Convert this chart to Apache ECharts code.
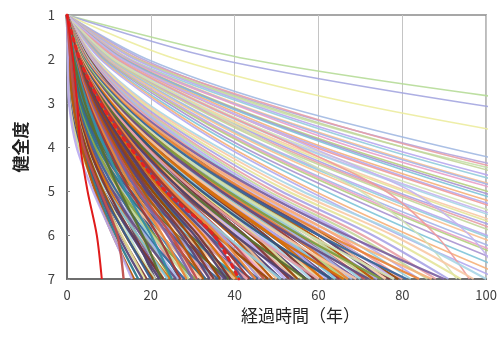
<!DOCTYPE html>
<html>
<head>
<meta charset="utf-8">
<script src="https://cdn.jsdelivr.net/npm/echarts@6/dist/echarts.min.js"></script>
<style>
  html, body { margin: 0; padding: 0; background: #fff; }
  #chart { width: 500px; height: 338px; }
</style>
</head>
<body>
<div id="chart"></div>
<script>
// health grades on the y axis (1 = sound, 7 = worst)
const grades = [1, 2, 3, 4, 5, 6, 7]

// each curve: years needed to reach grade 2, 3, 4, 5, 6, 7
const upperLines = [
  [43, 113, 200, 300, 420, 550],
  [36, 95, 170, 260, 360, 470],
  [26, 68, 125, 190, 265, 350],
  [19, 49, 90, 138, 190, 250],
  [18, 46, 84, 130, 180, 240],
  [17, 44, 80, 125, 172, 230]
]

const edgeLines = [
  [17, 47, 83, 126, 173, 225],
  [16.5, 45, 80, 120, 166, 215],
  [16, 43, 76, 115, 158, 205],
  [15, 42, 74, 112, 154, 200],
  [14.8, 40, 71, 107, 148, 192],
  [14.5, 39.5, 70, 106, 145, 188],
  [14, 39, 68, 104, 142, 185],
  [13.7, 37, 66, 100, 137, 178],
  [13.5, 36.5, 65, 98, 134, 175],
  [13.2, 36, 64, 96, 132, 172],
  [12.8, 35, 61, 93, 128, 166],
  [12.5, 34, 60, 91, 125, 163],
  [12.3, 33.6, 59, 90, 123, 160],
  [12, 32.5, 57, 87, 119, 155],
  [11.7, 32, 56, 85, 117, 152],
  [11.5, 31.5, 55.5, 84, 115.5, 150],
  [11, 30.5, 54, 81, 112, 145],
  [11, 30, 53, 80, 110, 143],
  [10.8, 29.4, 52, 78, 108, 140],
  [10.5, 28.8, 51, 77, 106, 137],
  [10.4, 28.4, 50, 76, 104, 135],
  [10, 27.3, 48, 73, 100, 130],
  [9.9, 27, 47.4, 72, 99, 128],
  [9.7, 26.5, 46.6, 70.5, 97, 126],
  [9.4, 25.6, 45, 68, 94, 122],
  [9.2, 25.2, 44.4, 67, 92, 120],
  [9.1, 24.8, 43.7, 66, 91, 118],
  [8.8, 24, 42, 64, 88, 114],
  [8.5, 23, 40.7, 61.6, 84.7, 110],
  [8.2, 22.3, 39, 59, 81.6, 106],
  [7.9, 21.6, 38, 57.7, 79.3, 103],
  [12, 32, 55, 76, 88, 96],
  [11, 30, 50, 70, 84, 93],
  [13, 34, 58, 82, 96, 104]
]

const lateLines = [
  [7, 19, 36, 56, 80, 100],
  [6.8, 18.4, 35, 54.3, 77.6, 97],
  [6.6, 17.9, 33.8, 52.6, 75.2, 94],
  [6.4, 17.3, 32.8, 51, 72.8, 91],
  [6.2, 16.7, 31.7, 49.3, 70.4, 88],
  [6, 16.3, 31, 48, 68.8, 86],
  [5.9, 16, 30.2, 47, 67.2, 84],
  [5.7, 15.6, 29.5, 46, 65.6, 82]
]

// the thick middle of the bundle
const denseLines = [
  [4.4, 12.4, 24.8, 39.4, 56.2, 73],
  [4.3, 12.1, 24.1, 38.3, 54.7, 71],
  [4.1, 11.7, 23.5, 37.3, 53.1, 69],
  [4, 11.4, 22.8, 36.2, 51.6, 67],
  [3.9, 11.1, 22.1, 35.1, 50, 65],
  [3.8, 10.7, 21.4, 34, 48.5, 63],
  [3.7, 10.4, 20.7, 32.9, 47, 61],
  [3.5, 10, 20.1, 31.9, 45.4, 59],
  [3.4, 9.7, 19.4, 30.8, 43.9, 57],
  [3.3, 9.4, 18.7, 29.7, 42.4, 55],
  [3.2, 9, 18, 28.6, 40.8, 53],
  [3.1, 8.7, 17.3, 27.5, 39.3, 51],
  [2.9, 8.3, 16.7, 26.5, 37.7, 49],
  [2.8, 8, 16, 25.4, 36.2, 47],
  [2.7, 7.7, 15.3, 24.3, 34.7, 45],
  [2.6, 7.3, 14.6, 23.2, 33.1, 43],
  [2.5, 7, 13.9, 22.1, 31.6, 41],
  [2.3, 6.6, 13.3, 21.1, 30, 39],
  [2.2, 6.3, 12.6, 20, 28.5, 37],
  [2.1, 6, 11.9, 18.9, 27, 35],
  [2, 5.6, 11.2, 17.8, 25.4, 33],
  [1.9, 5.3, 10.5, 16.7, 23.9, 31],
  [1.7, 4.9, 9.9, 15.7, 22.3, 29],
  [1.6, 4.6, 9.2, 14.6, 20.8, 27],
  [1.5, 4.3, 8.5, 13.5, 19.3, 25],
  [1.4, 3.9, 7.8, 12.4, 17.7, 23],
  [1.3, 3.6, 7.1, 11.3, 16.2, 21]
]

const midLines = [
  [5.6, 15.2, 28.8, 44.8, 64, 80],
  [4, 11.9, 24.5, 41, 61.6, 79],
  [5.5, 14.8, 28.1, 43.7, 62.4, 78],
  [3.9, 11.6, 23.9, 40, 60, 77],
  [5.3, 14.4, 27.4, 42.6, 60.8, 76],
  [5.3, 14.3, 27, 42, 60, 75],
  [3.7, 11.1, 22.9, 38.5, 57.7, 74],
  [5.1, 13.9, 26.3, 40.9, 58.4, 73],
  [5, 13.7, 25.9, 40.3, 57.6, 72],
  [3.6, 10.7, 22, 36.9, 55.4, 71],
  [4.9, 13.3, 25.2, 39.2, 56, 70],
  [3.5, 10.4, 21.4, 35.9, 53.8, 69],
  [4.8, 12.9, 24.5, 38.1, 54.4, 68],
  [4.7, 12.7, 24.1, 37.5, 53.6, 67],
  [3.3, 9.9, 20.5, 34.3, 51.5, 66],
  [4.6, 12.4, 23.4, 36.4, 52, 65],
  [4.5, 12.2, 23, 35.8, 51.2, 64],
  [3.2, 9.5, 19.5, 32.8, 49.1, 63],
  [4.3, 11.8, 22.3, 34.7, 49.6, 62],
  [4.3, 11.6, 22, 34.2, 48.8, 61],
  [3, 9, 18.6, 31.2, 46.8, 60],
  [4.1, 11.2, 21.2, 33, 47.2, 59],
  [4.1, 11, 20.9, 32.5, 46.4, 58],
  [2.9, 8.6, 17.7, 29.6, 44.5, 57],
  [3.9, 10.6, 20.2, 31.4, 44.8, 56],
  [3.9, 10.5, 19.8, 30.8, 44, 55],
  [2.7, 8.1, 16.7, 28.1, 42.1, 54],
  [3.7, 10.1, 19.1, 29.7, 42.4, 53],
  [3.6, 9.9, 18.7, 29.1, 41.6, 52],
  [2.6, 7.7, 15.8, 26.5, 39.8, 51],
  [3.5, 9.5, 18, 28, 40, 50],
  [3.4, 9.3, 17.6, 27.4, 39.2, 49],
  [2.4, 7.2, 14.9, 25, 37.4, 48],
  [3.3, 8.9, 16.9, 26.3, 37.6, 47],
  [3.2, 8.7, 16.6, 25.8, 36.8, 46]
]

// curves that drop fast at first and then level off
const steadyLines = [
  [4.5, 14.4, 28.4, 45.9, 66.6, 90],
  [4.4, 13.9, 27.4, 44.4, 64.4, 87],
  [4.2, 13.4, 26.5, 42.8, 62.2, 84],
  [4.1, 13, 25.5, 41.3, 59.9, 81],
  [3.9, 12.5, 24.6, 39.8, 57.7, 78],
  [3.8, 12, 23.6, 38.3, 55.5, 75],
  [3.6, 11.5, 22.7, 36.7, 53.3, 72],
  [3.5, 11, 21.7, 35.2, 51.1, 69],
  [3.3, 10.6, 20.8, 33.7, 48.8, 66],
  [3.2, 10.1, 19.8, 32.1, 46.6, 63],
  [3, 9.6, 18.9, 30.6, 44.4, 60],
  [2.9, 9.1, 18, 29.1, 42.2, 57],
  [2.7, 8.6, 17, 27.5, 40, 54],
  [2.6, 8.2, 16.1, 26, 37.7, 51],
  [2.4, 7.7, 15.1, 24.5, 35.5, 48],
  [2.3, 7.3, 14.3, 23.2, 33.7, 45.5],
  [2.2, 6.9, 13.5, 21.9, 31.8, 43],
  [2, 6.4, 12.6, 20.4, 29.6, 40],
  [1.9, 6, 11.8, 19.1, 27.8, 37.5],
  [1.8, 5.6, 11, 17.9, 25.9, 35],
  [1.6, 5.2, 10.2, 16.6, 24.1, 32.5],
  [1.5, 4.8, 9.5, 15.3, 22.2, 30],
  [1.4, 4.4, 8.7, 14, 20.4, 27.5],
  [1.3, 4, 7.9, 12.8, 18.5, 25],
  [1.1, 3.6, 7.1, 11.5, 16.7, 22.5],
  [1, 3.2, 6.3, 10.2, 14.8, 20]
]

const earlyLines = [
  [3.2, 8.6, 16.2, 25.2, 36, 45],
  [1.3, 4, 9.7, 18.5, 29.9, 44],
  [3, 8.3, 15.7, 24.4, 34.8, 43.5],
  [0.4, 1.3, 6.5, 17.2, 30.1, 43],
  [2.9, 8, 15.1, 23.5, 33.6, 42],
  [1.2, 3.7, 9.1, 17.4, 28.2, 41.5],
  [2.8, 7.7, 14.6, 22.7, 32.4, 40.5],
  [0.4, 1.2, 6, 16, 28, 40],
  [2.7, 7.4, 14, 21.8, 31.2, 39],
  [1.2, 3.5, 8.5, 16.2, 26.2, 38.5],
  [2.7, 7.2, 13.7, 21.3, 30.4, 38],
  [0.4, 1.1, 5.6, 14.8, 25.9, 37],
  [2.6, 6.9, 13.1, 20.4, 29.2, 36.5],
  [1.1, 3.2, 7.9, 15.1, 24.5, 36],
  [2.5, 6.7, 12.6, 19.6, 28, 35],
  [0.3, 1, 5.2, 13.8, 24.2, 34.5],
  [2.4, 6.5, 12.2, 19, 27.2, 34],
  [1, 3, 7.3, 13.9, 22.4, 33],
  [2.3, 6.2, 11.7, 18.2, 26, 32.5],
  [0.3, 1, 4.8, 12.8, 22.4, 32],
  [2.2, 5.9, 11.2, 17.4, 24.8, 31],
  [0.9, 2.7, 6.7, 12.8, 20.7, 30.5],
  [2.1, 5.7, 10.8, 16.8, 24, 30],
  [0.3, 0.9, 4.4, 11.6, 20.3, 29],
  [2, 5.4, 10.3, 16, 22.8, 28.5],
  [0.8, 2.5, 6.2, 11.8, 19, 28],
  [1.9, 5.1, 9.7, 15.1, 21.6, 27],
  [0.3, 0.8, 4, 10.6, 18.6, 26.5],
  [0.8, 2.3, 5.7, 10.9, 17.7, 26],
  [1.8, 4.8, 9, 14, 20, 25],
  [0.7, 2.2, 5.4, 10.3, 16.7, 24.5],
  [0.2, 0.7, 3.6, 9.6, 16.8, 24],
  [0.7, 2.1, 5.1, 9.7, 15.6, 23],
  [1.6, 4.3, 8.1, 12.6, 18, 22.5],
  [0.2, 0.7, 3.3, 8.8, 15.4, 22],
  [0.6, 1.9, 4.6, 8.8, 14.3, 21],
  [0.6, 1.8, 4.5, 8.6, 13.9, 20.5],
  [0.2, 0.6, 3, 8, 14, 20],
  [0.6, 1.7, 4.2, 8, 12.9, 19],
  [0.2, 0.6, 2.8, 7.4, 13, 18.5],
  [0.5, 1.6, 4, 7.6, 12.2, 18],
  [0.5, 1.5, 3.7, 7.1, 11.6, 17],
  [0.5, 1.4, 3.5, 6.7, 10.9, 16],
  [0.2, 0.5, 2.3, 6.2, 10.9, 15.5],
  [0.8, 2, 4, 8, 12, 13.5]
]

// highlighted curves
const averageLine = [3, 8, 15, 23.5, 35, 41]
const fastestLine = [1.4, 2.45, 3.2, 4.9, 7.1, 8.3]

const upperPalette = ["#b6dc98", "#a4a6e0", "#ecec9e", "#a2b9e2", "#b3a6dd", "#c6e0aa"]
const darkPalette = [
  "#3b6190", "#80393a", "#5f7530", "#5a4878", "#2f7a8c", "#b65708",
  "#4f81bd", "#c0504d", "#8aa845", "#8064a2", "#4bacc6", "#e9863c",
  "#3a679c", "#9f3b38", "#7e9d40", "#664f83", "#358ea6", "#d9700b",
  "#32577f", "#7a3532", "#5a7030", "#52426e", "#2a6e7c", "#984807"
]
const lightPalette = [
  "#a9a3e6", "#e8a0a6", "#c3d69b", "#b8a8ee", "#93cddd", "#fac090",
  "#a5b5e8", "#eaa0c8", "#b6cf80", "#a893d0", "#7fc4d8", "#f6b07a",
  "#b3aaf0", "#f09a9a", "#d3e2b3", "#c3b4f0", "#a9d6e6", "#f8c9a5", "#e4e49a"
]

function toPoints(years) {
  return [[0, grades[0]]].concat(years.map((t, i) => [t, grades[i + 1]]))
}

const series = []
let colorIndex = 0

function lineSeries(years, color, width, opacity) {
  return {
    type: "line",
    data: toPoints(years),
    symbol: "none",
    smooth: 0.3,
    silent: true,
    lineStyle: { color: color, width: width, opacity: opacity }
  }
}

// pattern: "L" = light colour, "D" = dark colour, repeated along the group
function addGroup(lines, width, pattern) {
  lines.forEach((years, i) => {
    colorIndex++
    const useLight = pattern[i % pattern.length] === "L"
    const color = useLight
      ? lightPalette[colorIndex % lightPalette.length]
      : darkPalette[colorIndex % darkPalette.length]
    series.push(lineSeries(years, color, width, useLight ? 0.9 : 0.95))
  })
}

upperLines.forEach((years, i) => series.push(lineSeries(years, upperPalette[i], 1.5, 0.9)))
addGroup(edgeLines, 1.6, "L")
addGroup(lateLines, 2, "L")
addGroup(denseLines, 2.6, "LLD")
addGroup(midLines, 2.4, "LD")
addGroup(steadyLines, 2.4, "DLD")
addGroup(earlyLines, 2.4, "DDDL")

series.push({
  type: "line",
  data: toPoints(averageLine),
  symbol: "none",
  smooth: 0.3,
  silent: true,
  lineStyle: { color: "#e52222", width: 3, type: [3, 5], cap: "round" }
})
series.push(lineSeries(fastestLine, "#e01b1b", 2, 1))

const font = "'Noto Sans CJK JP', 'Noto Sans', sans-serif"

const chart = echarts.init(document.getElementById("chart"), null, { renderer: "canvas" })
chart.setOption({
  animation: false,
  grid: {
    left: 67,
    right: 13,
    top: 15,
    bottom: 59,
    show: true,
    borderColor: "#8a8a8a",
    borderWidth: 1.5
  },
  xAxis: {
    type: "value",
    min: 0,
    max: 100,
    interval: 20,
    name: "経過時間（年）",
    nameLocation: "middle",
    nameGap: 26,
    nameTextStyle: { fontFamily: font, fontSize: 17, color: "#222", padding: [0, 0, 0, 48] },
    axisLine: { lineStyle: { color: "#6e6e6e", width: 2 } },
    axisTick: { show: false },
    axisLabel: { fontFamily: font, fontSize: 13, color: "#404040", margin: 10 },
    splitLine: { show: true, lineStyle: { color: "#c4c4c4", width: 1 } }
  },
  yAxis: {
    type: "value",
    min: 1,
    max: 7,
    interval: 1,
    inverse: true,
    name: "健全度",
    nameLocation: "middle",
    nameRotate: 90,
    nameGap: 38,
    nameTextStyle: { fontFamily: font, fontSize: 17, color: "#222", fontWeight: "bold" },
    axisLine: { show: true, lineStyle: { color: "#6e6e6e", width: 2 } },
    axisTick: { show: true, inside: true, length: 3, lineStyle: { color: "#8a8a8a" } },
    axisLabel: { fontFamily: font, fontSize: 13, color: "#404040", margin: 12 },
    splitLine: { show: false }
  },
  series: series
})
</script>
</body>
</html>
